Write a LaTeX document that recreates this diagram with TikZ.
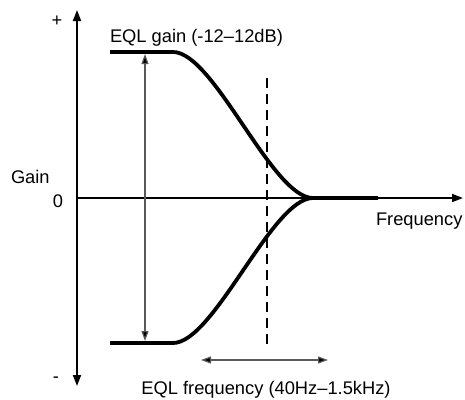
\documentclass[tikz,border=0pt]{standalone}
\usepackage{fontspec}
\setmainfont{Liberation Sans}
\usetikzlibrary{arrows.meta}
\begin{document}
\begin{tikzpicture}[x=1pt, y=-1pt,
    axis/.style={line width=1.8pt, -{Triangle[length=11pt, width=8pt]}},
    curve/.style={line width=3.8pt, line join=round},
    span/.style={line width=1.2pt, draw=black!65,
      {Triangle[length=10pt, width=7pt, fill=black]}-{Triangle[length=10pt, width=7pt, fill=black]}},
    cutoff/.style={line width=2.6pt, dash pattern=on 10pt off 6pt},
    txt/.style={inner sep=0pt, outer sep=0pt, font=\fontsize{18.3}{20}\selectfont}]
  \useasboundingbox (0,0) rectangle (465,399);
  % axes
  \coordinate (o) at (77,198);
  \coordinate (ytop) at (77,10);
  \coordinate (ybot) at (77,386);
  \coordinate (xend) at (463,198);
  \draw[axis] (o) -- (ytop);
  \draw[axis] (o) -- (ybot);
  \draw[axis] (o) -- (xend);
  % shelf curves
  \coordinate (hi0) at (110,52);
  \coordinate (hi1) at (173,52);
  \coordinate (lo0) at (110,343);
  \coordinate (lo1) at (173,343);
  \coordinate (flat0) at (313,198);
  \coordinate (flat1) at (378,198);
  \draw[curve] (hi0) -- (hi1) .. controls (214,52) and (272,198) .. (flat0) -- (flat1);
  \draw[curve] (lo0) -- (lo1) .. controls (214,343) and (272,198) .. (flat0);
  % gain range
  \coordinate (gtop) at (145,54);
  \coordinate (gbot) at (145,341);
  \draw[span] (gbot) -- (gtop);
  % frequency marker and range
  \coordinate (ftop) at (267,78);
  \coordinate (fbot) at (267,345);
  \draw[cutoff] (ftop) -- (fbot);
  \coordinate (fl) at (201,360);
  \coordinate (fr) at (328,360);
  \draw[span] (fl) -- (fr);
  % labels
  \node[txt, anchor=center] (plus) at (57,21) {+};
  \node[txt, anchor=center] (minus) at (56,380) {-};
  \node[txt, anchor=base west] (gain) at (11,183) {Gain};
  \node[txt, anchor=base east] (zero) at (63,207) {0};
  \node[txt, anchor=base west] (freq) at (376,225) {Frequency};
  \node[txt, anchor=base west] (eqlgain) at (110,42) {EQL gain (-12--12dB)};
  \node[txt, anchor=base] (eqlfreq) at (266,394) {EQL frequency (40Hz--1.5kHz)};
\end{tikzpicture}
\end{document}
